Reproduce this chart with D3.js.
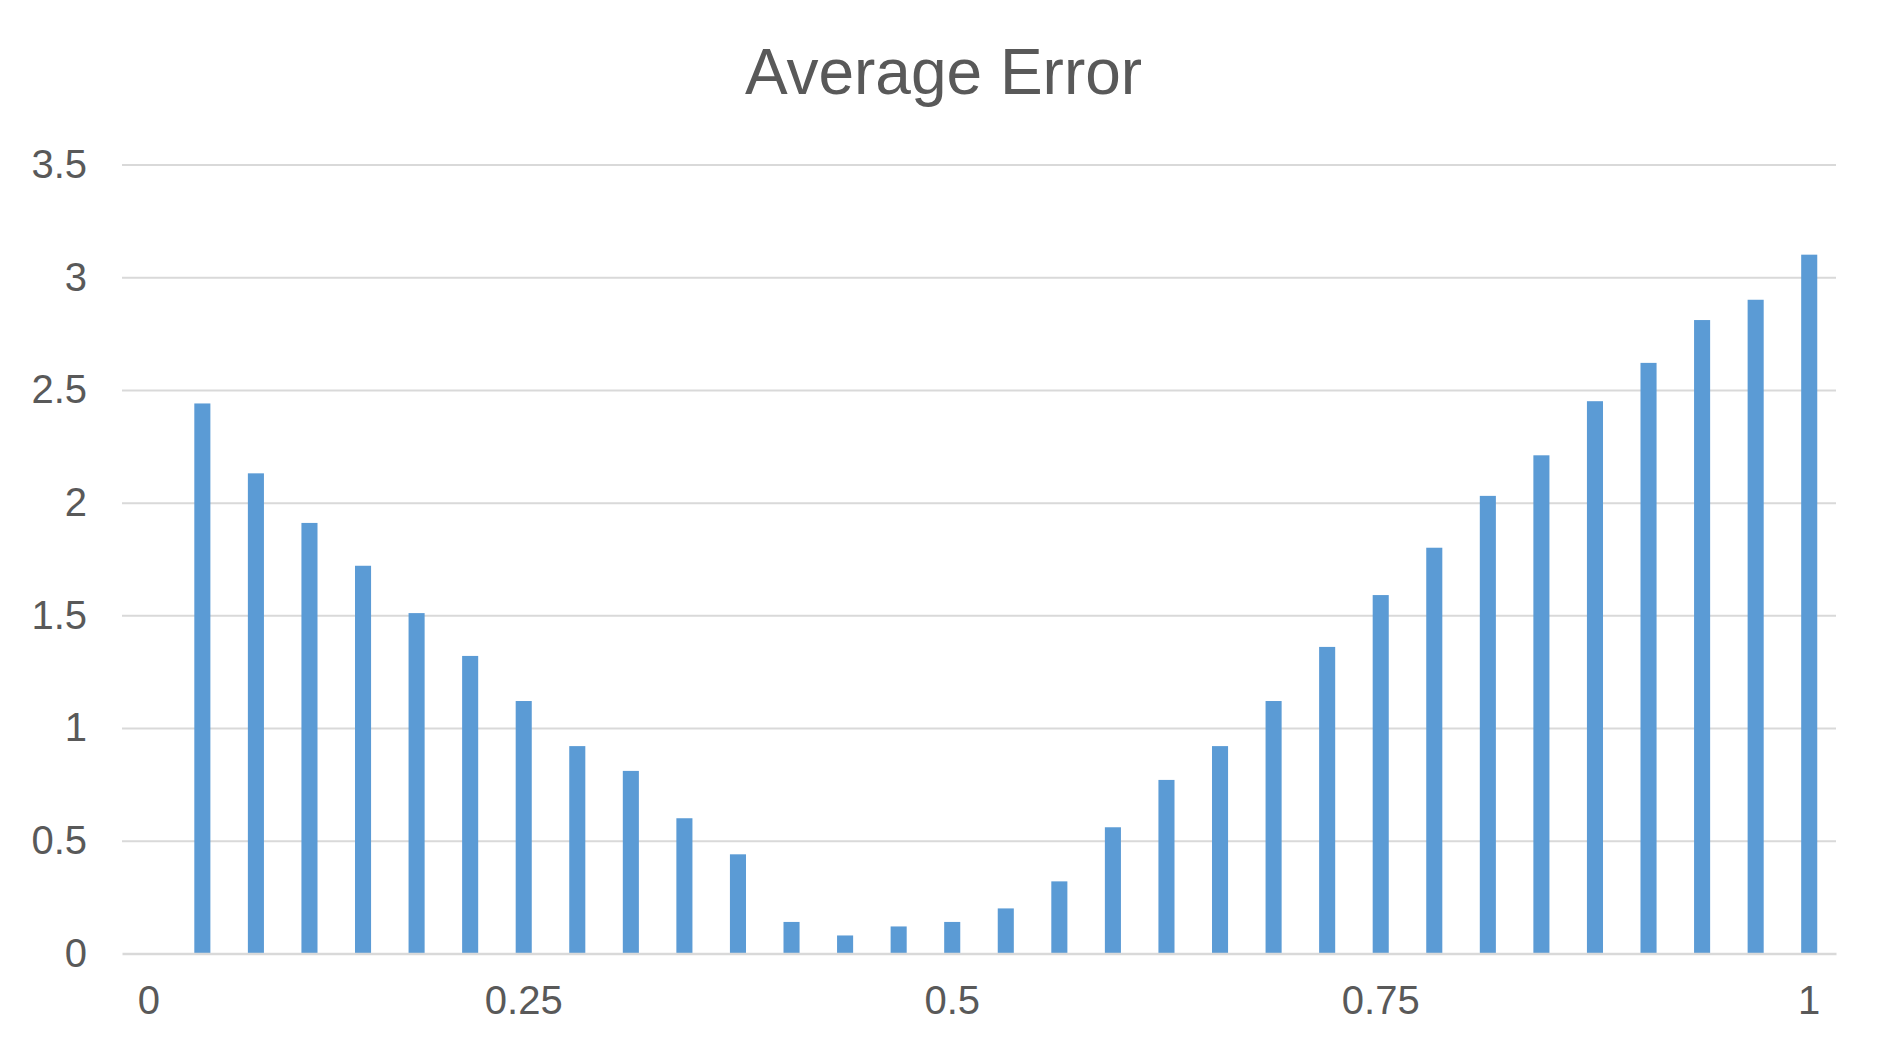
<!DOCTYPE html>
<html>
<head>
<meta charset="utf-8">
<script src="https://cdn.jsdelivr.net/npm/d3@7"></script>
<style>
  html, body { margin: 0; padding: 0; background: #ffffff; }
  svg { display: block; }
</style>
</head>
<body>
<svg id="chart" width="1887" height="1055"></svg>
<script>
// ---- data ----
const title = "Average Error";
const categories = [0,1,2,3,4,5,6,7,8,9,10,11,12,13,14,15,16,17,18,19,20,21,22,23,24,25,26,27,28,29,30,31];
const values = [null, 2.44, 2.13, 1.91, 1.72, 1.51, 1.32, 1.12, 0.92, 0.81, 0.60, 0.44, 0.14, 0.08, 0.12, 0.14, 0.20, 0.32, 0.56, 0.77, 0.92, 1.12, 1.36, 1.59, 1.80, 2.03, 2.21, 2.45, 2.62, 2.81, 2.90, 3.10];
const xTickCategories = [0, 7, 15, 23, 31];
const xTickLabels = ["0", "0.25", "0.5", "0.75", "1"];
const yTicks = [0, 0.5, 1, 1.5, 2, 2.5, 3, 3.5];

// ---- layout ----
const W = 1887, H = 1055;
const plot = { left: 122, right: 1836, top: 164.5, bottom: 953.5 };
const textColor = "#595959";
const gridColor = "#d9d9d9";
const barColor = "#5b9bd5";
const font = "'Liberation Sans', Arial, sans-serif";

const svg = d3.select("#chart");

const x = d3.scaleBand()
  .domain(categories)
  .range([plot.left, plot.right])
  .paddingInner(0.7)
  .paddingOuter(0.35);

const y = d3.scaleLinear()
  .domain([0, 3.5])
  .range([plot.bottom, plot.top]);

// title
svg.append("text")
  .attr("x", W / 2)
  .attr("y", 94)
  .attr("text-anchor", "middle")
  .attr("font-family", font)
  .attr("font-size", 64)
  .attr("fill", textColor)
  .text(title);

// gridlines via axis
const yGrid = svg.append("g")
  .attr("transform", `translate(${plot.left},0)`)
  .call(d3.axisLeft(y).tickValues(yTicks.filter(t => t > 0)).tickSize(-(plot.right - plot.left)).tickFormat(""));
yGrid.select(".domain").remove();
yGrid.selectAll(".tick line").attr("stroke", gridColor).attr("stroke-width", 2);

// y labels
const yAxis = svg.append("g")
  .attr("transform", `translate(${plot.left},0)`)
  .call(d3.axisLeft(y).tickValues(yTicks).tickSize(0).tickPadding(35).tickFormat(d => String(d)));
yAxis.select(".domain").remove();
yAxis.selectAll(".tick text")
  .attr("font-family", font)
  .attr("font-size", 40)
  .attr("fill", textColor);

// bars
svg.append("g")
  .selectAll("rect")
  .data(categories.map((c, i) => ({ c, v: values[i] })).filter(d => d.v != null))
  .join("rect")
  .attr("x", d => x(d.c))
  .attr("width", x.bandwidth())
  .attr("y", d => y(d.v))
  .attr("height", d => y(0) - y(d.v))
  .attr("fill", barColor);

// x axis
const xAxis = svg.append("g")
  .attr("transform", `translate(0,${plot.bottom})`)
  .call(d3.axisBottom(x)
    .tickValues(xTickCategories)
    .tickSize(0)
    .tickPadding(32)
    .tickFormat(d => xTickLabels[xTickCategories.indexOf(d)]));
xAxis.select(".domain")
  .attr("stroke", gridColor)
  .attr("stroke-width", 2.5);
xAxis.selectAll(".tick text")
  .attr("font-family", font)
  .attr("font-size", 40)
  .attr("fill", textColor);
</script>
</body>
</html>
